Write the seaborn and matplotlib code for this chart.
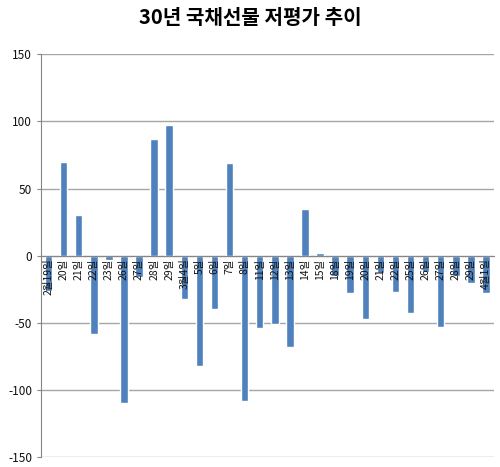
import numpy as np
import pandas as pd
import matplotlib
matplotlib.use('Agg')
import matplotlib.pyplot as plt
import seaborn as sns

# 날짜 라벨과 저평가 값
dates = ['2월19일', '20일', '21일', '22일', '23일', '26일', '27일', '28일', '29일',
         '3월4일', '5일', '6일', '7일', '8일', '11일', '12일', '13일', '14일', '15일',
         '18일', '19일', '20일', '21일', '22일', '25일', '26일', '27일', '28일', '29일',
         '4월1일']
values = [-26, 70, 30, -58, -3, -110, -16, 87, 97,
          -32, -82, -40, 69, -108, -54, -51, -68, 35, 2,
          -15, -28, -47, -13, -27, -43, -12, -53, -15, -20,
          -28]

df = pd.DataFrame({'pos': np.arange(len(dates)), 'value': values})

sns.set_style('white')
plt.rcParams['font.family'] = ['Noto Sans CJK KR', 'DejaVu Sans']
plt.rcParams['axes.unicode_minus'] = False

fig = plt.figure(figsize=(5.0, 4.67), dpi=100)
ax = fig.add_axes([0.082, 0.021, 0.905, 0.863])

sns.barplot(data=df, x='pos', y='value', color='#4F81BD', saturation=1,
            width=0.5, ax=ax, zorder=3)

ax.set_ylim(-150, 150)
ax.set_yticks([-150, -100, -50, 0, 50, 100, 150])
ax.set_xlim(-0.5, len(dates) - 0.5)
ax.grid(axis='y', color='#a6a6a6', linewidth=1.0, zorder=0)

for s in ['top', 'right']:
    ax.spines[s].set_visible(False)
ax.spines['left'].set_color('#868686')
ax.spines['bottom'].set_position(('data', 0))
ax.spines['bottom'].set_color('#868686')
ax.spines['bottom'].set_zorder(4)

ax.set_xticks(np.arange(len(dates)))
ax.set_xticklabels(dates, rotation=90, fontsize=7.5)
ax.set_xticks(np.arange(len(dates) + 1) - 0.5, minor=True)
ax.tick_params(axis='x', which='major', length=0, pad=2, labelcolor='#111111')
ax.tick_params(axis='x', which='minor', length=3, color='#868686', direction='out')
ax.tick_params(axis='y', labelsize=8.5, length=3, color='#868686', left=True,
               labelcolor='#111111')
ax.xaxis.set_zorder(5)

ax.set_xlabel('')
ax.set_ylabel('')
fig.suptitle('30년 국채선물 저평가 추이', fontsize=14.5, fontweight='bold',
             color='black', y=0.985)

fig.savefig('out.png', dpi=100)
